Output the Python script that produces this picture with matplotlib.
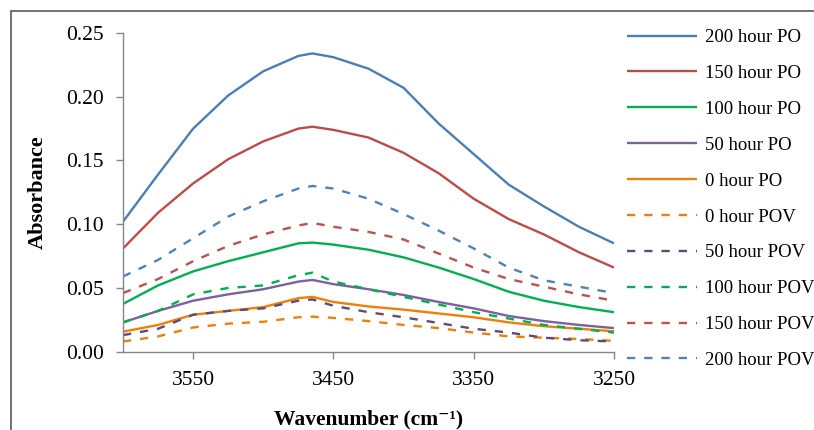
import matplotlib
matplotlib.use('Agg')
import matplotlib.pyplot as plt
import matplotlib.patches as mpatches

# wavenumber (cm-1)
wavenumber = [3600, 3575, 3550, 3525, 3500, 3475, 3465, 3450, 3425,
              3400, 3375, 3350, 3325, 3300, 3275, 3250]

# absorbance
po_200 = [0.102, 0.139, 0.175, 0.201, 0.220, 0.232, 0.234, 0.231, 0.222,
          0.207, 0.179, 0.155, 0.131, 0.114, 0.098, 0.085]
po_150 = [0.081, 0.109, 0.132, 0.151, 0.165, 0.175, 0.1765, 0.174, 0.168,
          0.156, 0.140, 0.120, 0.104, 0.092, 0.078, 0.066]
po_100 = [0.0375, 0.052, 0.063, 0.071, 0.078, 0.085, 0.0856, 0.084, 0.080,
          0.074, 0.066, 0.057, 0.047, 0.040, 0.035, 0.031]
po_50 = [0.023, 0.032, 0.040, 0.045, 0.049, 0.055, 0.0563, 0.053, 0.049,
         0.0445, 0.039, 0.034, 0.028, 0.024, 0.021, 0.0185]
po_0 = [0.0157, 0.021, 0.029, 0.032, 0.035, 0.042, 0.043, 0.039, 0.0355,
        0.033, 0.030, 0.027, 0.023, 0.020, 0.018, 0.016]
pov_0 = [0.008, 0.012, 0.019, 0.022, 0.0235, 0.027, 0.0275, 0.0265, 0.024,
         0.021, 0.0185, 0.015, 0.012, 0.011, 0.010, 0.0085]
pov_50 = [0.013, 0.018, 0.029, 0.032, 0.034, 0.040, 0.041, 0.036, 0.031,
          0.027, 0.0225, 0.018, 0.015, 0.011, 0.009, 0.008]
pov_100 = [0.023, 0.032, 0.045, 0.050, 0.052, 0.060, 0.062, 0.055, 0.049,
           0.043, 0.037, 0.031, 0.026, 0.021, 0.018, 0.015]
pov_150 = [0.046, 0.057, 0.071, 0.083, 0.092, 0.099, 0.101, 0.098, 0.094,
           0.088, 0.077, 0.066, 0.057, 0.051, 0.045, 0.040]
pov_200 = [0.059, 0.072, 0.089, 0.106, 0.118, 0.128, 0.130, 0.128, 0.120,
           0.108, 0.095, 0.081, 0.066, 0.056, 0.051, 0.046]

series = [
    ('200 hour PO', po_200, '#4A7EBB', '-'),
    ('150 hour PO', po_150, '#BE4B48', '-'),
    ('100 hour PO', po_100, '#00B050', '-'),
    ('50 hour PO', po_50, '#7D60A0', '-'),
    ('0 hour PO', po_0, '#F07F09', '-'),
    ('0 hour POV', pov_0, '#F07F09', '--'),
    ('50 hour POV', pov_50, '#604A7B', '--'),
    ('100 hour POV', pov_100, '#00B050', '--'),
    ('150 hour POV', pov_150, '#C0504D', '--'),
    ('200 hour POV', pov_200, '#4F81BD', '--'),
]

plt.rcParams['font.family'] = ['Liberation Serif', 'DejaVu Serif']

fig = plt.figure(figsize=(8.14, 4.30), dpi=100)
ax = fig.add_axes([123 / 814, 1 - 351.7 / 430, (614 - 123) / 814, (351.7 - 33) / 430])

for label, vals, color, ls in series:
    line, = ax.plot(wavenumber, vals, color=color, linewidth=1.7, label=label,
                    solid_capstyle='butt')
    if ls == '--':
        line.set_dashes((3.5, 3.8))

ax.set_xlim(3600, 3250)
ax.set_ylim(0, 0.25)
ax.set_xticks([3550, 3450, 3350, 3250])
ax.set_yticks([0.0, 0.05, 0.10, 0.15, 0.20, 0.25])
ax.set_yticklabels(['0.00', '0.05', '0.10', '0.15', '0.20', '0.25'])

for side in ['top', 'right']:
    ax.spines[side].set_visible(False)
for side in ['left', 'bottom']:
    ax.spines[side].set_color('#868686')
    ax.spines[side].set_linewidth(1.0)
ax.tick_params(axis='both', direction='out', length=5, width=1.0,
               color='#868686', labelsize=15.5, labelcolor='black')
ax.tick_params(axis='x', pad=9)
ax.tick_params(axis='y', pad=9)

ax.set_ylabel('Absorbance', fontsize=16, fontweight='bold', labelpad=13)
ax.set_xlabel('Wavenumber (cm\u207b\u00b9)', fontsize=15.5, fontweight='bold', labelpad=14)

leg = ax.legend(loc='upper left', bbox_to_anchor=(627 / 814, 1 - 29 / 430),
                bbox_transform=fig.transFigure, frameon=False, fontsize=13.5,
                handlelength=3.75, handletextpad=0.42, labelspacing=1.0,
                borderaxespad=0, borderpad=0)

# chart area border
fig.patches.append(mpatches.Rectangle((11 / 814, -0.5), 2, 1.5 - 11 / 430,
                                      transform=fig.transFigure, fill=False,
                                      edgecolor='#595959', linewidth=1.2))

plt.savefig('out.png', dpi=100)
